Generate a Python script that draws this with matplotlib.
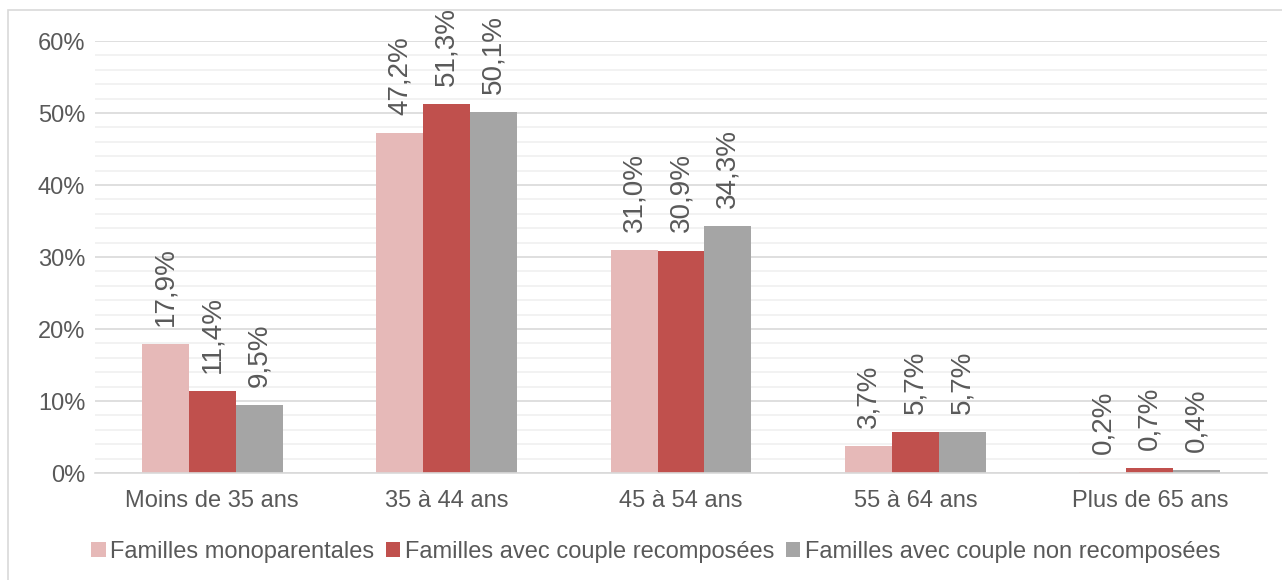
import matplotlib.pyplot as plt
import numpy as np
from matplotlib.patches import Rectangle

plt.rcParams['font.family'] = ['Liberation Sans', 'DejaVu Sans']

categories = ['Moins de 35 ans', '35 à 44 ans', '45 à 54 ans', '55 à 64 ans', 'Plus de 65 ans']
series_names = ['Familles monoparentales', 'Familles avec couple recomposées',
                'Familles avec couple non recomposées']
mono = [17.9, 47.2, 31.0, 3.7, 0.2]
recomp = [11.4, 51.3, 30.9, 5.7, 0.7]
non_recomp = [9.5, 50.1, 34.3, 5.7, 0.4]
colors = ['#E6B9B8', '#C0504D', '#A5A5A5']
text_col = '#595959'

fig = plt.figure(figsize=(12.82, 5.8), dpi=100)
ax = fig.add_axes([95 / 1282, 1 - 473 / 580, 1172 / 1282, (473 - 41) / 580])

x = np.arange(len(categories))
w = 0.2
for i, (vals, name) in enumerate(zip([mono, recomp, non_recomp], series_names)):
    pos = x + (i - 1) * w
    ax.bar(pos, vals, w, color=colors[i], label=name, zorder=3)
    for p, v in zip(pos, vals):
        ax.annotate(f'{v:.1f}%'.replace('.', ','), (p, v), xytext=(0, 13),
                    textcoords='offset points', rotation=90, ha='center', va='bottom',
                    fontsize=20, color=text_col)

ax.set_xlim(-0.5, 4.5)
ax.set_ylim(0, 60)
ax.set_yticks(np.arange(0, 61, 10))
ax.set_yticklabels([f'{t}%' for t in range(0, 61, 10)])
ax.set_yticks(np.arange(0, 61, 2), minor=True)
ax.set_xticks(x)
ax.set_xticklabels(categories)
ax.tick_params(axis='both', length=0, labelsize=17, labelcolor=text_col)
ax.tick_params(axis='y', pad=7)
ax.tick_params(axis='x', pad=12)
ax.tick_params(axis='y', which='minor', length=0)
ax.grid(axis='y', which='major', color='#D9D9D9', lw=1.2, zorder=0)
ax.grid(axis='y', which='minor', color='#F0F0F0', lw=1.2, zorder=0)
for s in ['top', 'right', 'left']:
    ax.spines[s].set_visible(False)
ax.spines['bottom'].set_color('#D9D9D9')
ax.spines['bottom'].set_linewidth(1.2)
ax.spines['bottom'].set_zorder(4)

fig.legend(loc='center', bbox_to_anchor=(656 / 1282, 1 - 552 / 580), ncol=3, frameon=False,
           fontsize=17, labelcolor=text_col, handlelength=0.6, handleheight=0.6,
           handletextpad=0.2, columnspacing=0.5)

fig.patches.append(Rectangle((8 / 1282, -0.01), 1.0, 1 - 10 / 580 + 0.01,
                             transform=fig.transFigure, fill=False,
                             edgecolor='#D9D9D9', lw=1.2))

fig.savefig('out.png', dpi=100)
